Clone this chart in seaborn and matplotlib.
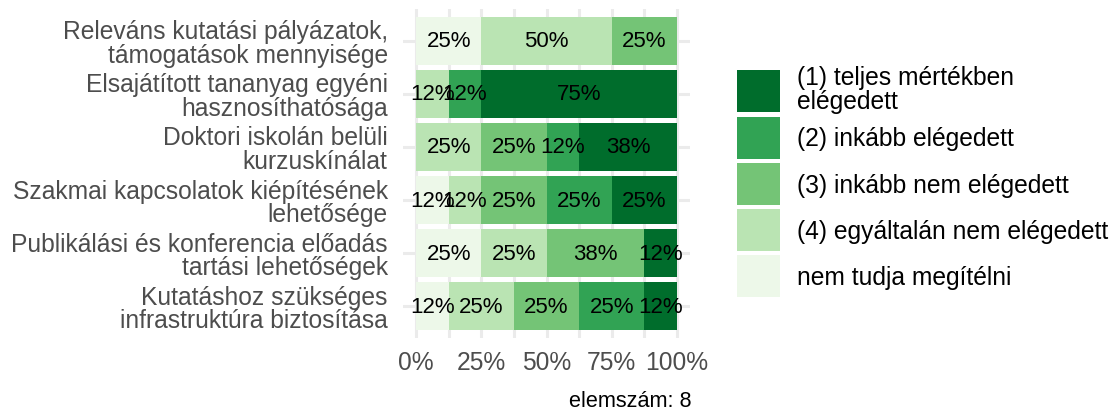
import matplotlib
matplotlib.use("Agg")
import numpy as np
import pandas as pd
import seaborn as sns
from matplotlib import pyplot as plt
from matplotlib.ticker import FixedLocator

questions = [
    "Releváns kutatási pályázatok,\ntámogatások mennyisége",
    "Elsajátított tananyag egyéni\nhasznosíthatósága",
    "Doktori iskolán belüli\nkurzuskínálat",
    "Szakmai kapcsolatok kiépítésének\nlehetősége",
    "Publikálási és konferencia előadás\ntartási lehetőségek",
    "Kutatáshoz szükséges\ninfrastruktúra biztosítása",
]

# answer levels in stacking order (left -> right)
levels = [
    "nem tudja megítélni",
    "(4) egyáltalán nem elégedett",
    "(3) inkább nem elégedett",
    "(2) inkább elégedett",
    "(1) teljes mértékben\nelégedett",
]
colors = ["#edf8e9", "#bae4b3", "#74c476", "#31a354", "#006d2c"]

n_resp = 8
# respondents per answer, same order as questions
cnt_dont_know = [2, 0, 0, 1, 2, 1]
cnt_4 = [4, 1, 2, 1, 2, 2]
cnt_3 = [2, 0, 2, 2, 3, 2]
cnt_2 = [0, 1, 1, 2, 0, 2]
cnt_1 = [0, 6, 3, 2, 1, 1]
counts = [cnt_dont_know, cnt_4, cnt_3, cnt_2, cnt_1]

x_ticks = [0, 25, 50, 75, 100]
x_ticklabels = ["0%", "25%", "50%", "75%", "100%"]

plt.rcParams["font.family"] = ["Liberation Sans", "DejaVu Sans"]

W, H = 1115, 414
fig = plt.figure(figsize=(W / 100, H / 100), dpi=100)
ax = fig.add_axes([403 / W, 1 - 339 / H, 287 / W, 329 / H])

grid_col = "#ebebeb"
left = np.zeros(len(questions))
for lev, col, cnt in zip(levels, colors, counts):
    pct = np.array(cnt) / n_resp * 100
    sub = pd.DataFrame({"question": questions, "pct": pct})
    sns.barplot(
        data=sub, x="pct", y="question", order=questions, color=col,
        saturation=1, width=0.9, left=left, label=lev, errorbar=None, ax=ax,
    )
    labels = [f"{round(p)}%" if p > 0 else "" for p in pct]
    ax.bar_label(ax.containers[-1], labels=labels, label_type="center",
                 fontsize=16, color="black")
    left = left + pct

ax.set_xlim(-5, 105)
ax.set_ylim(len(questions) - 0.4, -0.6)
ax.set_xticks(x_ticks)
ax.set_xticklabels(x_ticklabels)
ax.xaxis.set_minor_locator(FixedLocator([12.5, 37.5, 62.5, 87.5]))
ax.set_xlabel("")
ax.set_ylabel("")
ax.set_axisbelow(True)
ax.grid(which="both", axis="x", color=grid_col, lw=2.2)
ax.grid(which="major", axis="y", color=grid_col, lw=2.2)
for s in ax.spines.values():
    s.set_visible(False)
ax.tick_params(axis="x", which="both", length=0, pad=9, labelsize=17.7, labelcolor="#4d4d4d")
ax.tick_params(axis="y", length=0, pad=11, labelsize=17.7, labelcolor="#4d4d4d")
for lbl in ax.get_yticklabels():
    lbl.set_linespacing(0.98)

handles = ax.containers[::-1]
leg = ax.legend(
    handles=handles, labels=levels[::-1], loc="upper left",
    bbox_to_anchor=(737 / W, 1 - 66 / H), bbox_transform=fig.transFigure,
    frameon=False, fontsize=17.7, handlelength=1.75, handleheight=2.25,
    handletextpad=0.69, labelspacing=0.17, borderpad=0, borderaxespad=0,
)
for t in leg.get_texts():
    t.set_linespacing(0.98)

fig.text(692 / W, 1 - 407 / H, "elemszám: 8", ha="right", va="baseline",
         fontsize=15.6, color="black")

fig.savefig("out.png", dpi=100)
